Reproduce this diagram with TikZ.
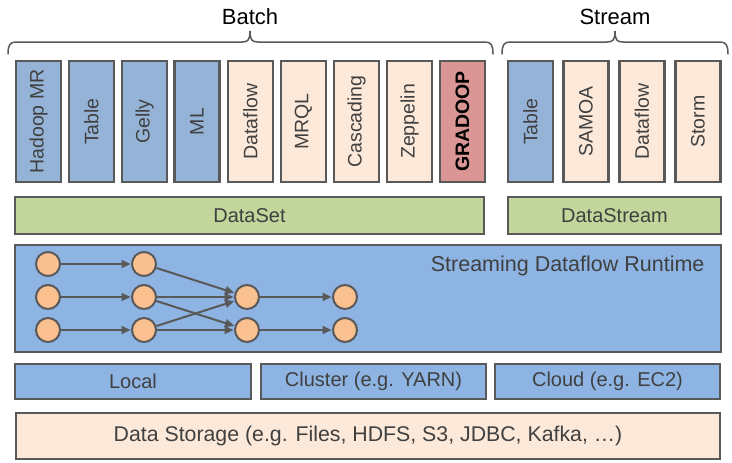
\documentclass[tikz,border=0pt]{standalone}
\usepackage{fontspec}
\setmainfont{Liberation Sans}
\usetikzlibrary{arrows.meta}
\definecolor{bord}{HTML}{595959}
\definecolor{txt}{HTML}{404040}
\definecolor{blueA}{HTML}{95B3D7}
\definecolor{blueB}{HTML}{8DB4E2}
\definecolor{peach}{HTML}{FDE9D9}
\definecolor{greenA}{HTML}{C3D69B}
\definecolor{redA}{HTML}{D99694}
\definecolor{orangeA}{HTML}{FAC090}
\tikzset{
  box/.style={draw=bord, line width=2.4pt, inner sep=0pt, text=txt},
  vbox/.style={box, minimum width=45, minimum height=121, font=\fontsize{19.5}{19.5}\selectfont},
  hbox/.style={box, font=\fontsize{20}{20}\selectfont},
  circ/.style={circle, draw=bord, fill=orangeA, line width=2pt, minimum size=24, inner sep=0pt},
  flow/.style={draw=bord, line width=2pt, -{Triangle[length=9pt,width=8pt]}, shorten >=0.5pt},
  brace/.style={draw=bord, line width=1.5pt, line cap=round},
  title/.style={text=black, font=\fontsize{22}{22}\selectfont}
}
\newcommand{\vtext}[1]{\rotatebox{90}{#1}}
\begin{document}
\begin{tikzpicture}[x=1pt,y=-1pt]
\useasboundingbox (0,0) rectangle (732,463);
% titles and braces
\node[title] (batch) at (250,17) {Batch};
\node[title] (stream) at (615,17) {Stream};
\draw[brace] (8,54) .. controls (8,45) and (10,42) .. (16,42) -- (242,42) .. controls (248,42) and (250,40) .. (250,31)
  .. controls (250,40) and (252,42) .. (258,42) -- (485,42) .. controls (491,42) and (493,45) .. (493,54);
\draw[brace] (502,54) .. controls (502,45) and (504,42) .. (510,42) -- (607,42) .. controls (613,42) and (615,40) .. (615,31)
  .. controls (615,40) and (617,42) .. (623,42) -- (720,42) .. controls (726,42) and (728,45) .. (728,54);
% top boxes
\node[vbox, fill=blueA] (hmr) at (38.5,121.5) {\vtext{Hadoop MR}};
\node[vbox, fill=blueA] (tab) at (91.5,121.5) {\vtext{Table}};
\node[vbox, fill=blueA] (gel) at (144.5,121.5) {\vtext{Gelly}};
\node[vbox, fill=blueA] (ml) at (197,121.5) {\vtext{ML}};
\node[vbox, fill=peach] (df1) at (250.5,121.5) {\vtext{Dataflow}};
\node[vbox, fill=peach] (mrql) at (303.5,121.5) {\vtext{MRQL}};
\node[vbox, fill=peach] (cas) at (356.5,121.5) {\vtext{Cascading}};
\node[vbox, fill=peach] (zep) at (409.5,121.5) {\vtext{Zeppelin}};
\node[vbox, fill=redA, text=black, font=\fontsize{19.5}{19.5}\selectfont\bfseries] (grad) at (462.5,121.5) {\vtext{GRADOOP}};
\node[vbox, fill=blueA] (tab2) at (530.5,121.5) {\vtext{Table}};
\node[vbox, fill=peach] (samoa) at (586,121.5) {\vtext{SAMOA}};
\node[vbox, fill=peach] (df2) at (642,121.5) {\vtext{Dataflow}};
\node[vbox, fill=peach] (storm) at (698,121.5) {\vtext{Storm}};
% API layer
\node[hbox, fill=greenA, minimum width=469, minimum height=37] (dataset) at (249.5,215.5) {DataSet};
\node[hbox, fill=greenA, minimum width=213, minimum height=37] (datastream) at (614.5,215.5) {DataStream};
% runtime
\node[box, fill=blueB, minimum width=706, minimum height=107] (runtime) at (368,298.5) {};
\node[text=txt, font=\fontsize{21.5}{21.5}\selectfont, anchor=east] (rtlabel) at (708,266) {Streaming Dataflow Runtime};
\node[circ] (a1) at (48,264) {};
\node[circ] (a2) at (48,297) {};
\node[circ] (a3) at (48,330) {};
\node[circ] (b1) at (144,264) {};
\node[circ] (b2) at (144,297) {};
\node[circ] (b3) at (144,330) {};
\node[circ] (c2) at (247,297) {};
\node[circ] (c3) at (247,330) {};
\node[circ] (d2) at (345,297) {};
\node[circ] (d3) at (345,330) {};
\draw[flow] (a1) -- (b1);
\draw[flow] (a2) -- (b2);
\draw[flow] (a3) -- (b3);
\draw[flow] (b1) -- (c2);
\draw[flow] (b2) -- (c2);
\draw[flow] (b2) -- (c3);
\draw[flow] (b3) -- (c2);
\draw[flow] (b3) -- (c3);
\draw[flow] (c2) -- (d2);
\draw[flow] (c3) -- (d3);
% deployment
\node[hbox, fill=blueB, minimum width=236, minimum height=35] (local) at (133,381.5) {Local};
\node[hbox, fill=blueB, minimum width=225, minimum height=35] (cluster) at (373.5,381.5) {Cluster (e.g. YARN)};
\node[hbox, fill=blueB, minimum width=225, minimum height=35] (cloud) at (607.5,381.5) {Cloud (e.g. EC2)};
% storage
\node[hbox, fill=peach, minimum width=704, minimum height=46, font=\fontsize{21.3}{21.3}\selectfont] (storage) at (368,436) {Data Storage (e.g. Files, HDFS, S3, JDBC, Kafka, …)};
\end{tikzpicture}
\end{document}
